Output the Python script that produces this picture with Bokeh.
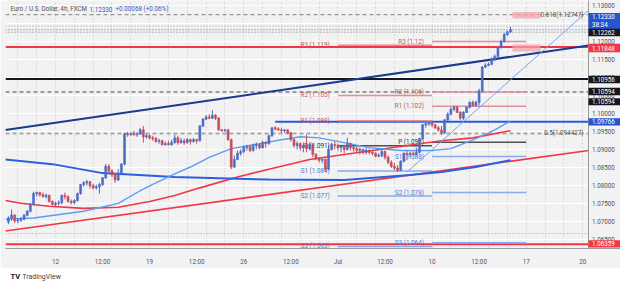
from bokeh.plotting import figure
from bokeh.models import Range1d, FixedTicker, Label, Span, BoxAnnotation, ColumnDataSource
from bokeh.layouts import column
from bokeh.embed import file_html
from bokeh.resources import INLINE
from bokeh.core.properties import value

FONT = "Roboto"

# ---------------- data ----------------
# 4h bars, bar 0 = Mon 12 Jun 2023 00:00 (trading-time index)
bar_index = list(range(-15, 146))
opens = [
    1.0698, 1.0709, 1.0717, 1.0701, 1.0703, 1.0706, 1.0717, 1.0728, 1.0747, 1.0777,
    1.0780, 1.0774, 1.0769, 1.0772, 1.0755, 1.0747, 1.0750, 1.0752, 1.0772, 1.0769,
    1.0755, 1.0752, 1.0758, 1.0777, 1.0802, 1.0807, 1.0810, 1.0799, 1.0793, 1.0796,
    1.0802, 1.0821, 1.0853, 1.0840, 1.0829, 1.0815, 1.0834, 1.0859, 1.0943, 1.0941,
    1.0943, 1.0941, 1.0943, 1.0954, 1.0935, 1.0938, 1.0932, 1.0930, 1.0922, 1.0924,
    1.0913, 1.0916, 1.0913, 1.0919, 1.0932, 1.0919, 1.0924, 1.0919, 1.0927, 1.0922,
    1.0927, 1.0924, 1.0965, 1.0984, 1.0990, 1.0987, 1.0995, 1.0987, 1.0954, 1.0952,
    1.0954, 1.0927, 1.0851, 1.0872, 1.0889, 1.0894, 1.0905, 1.0908, 1.0897, 1.0911,
    1.0913, 1.0905, 1.0919, 1.0916, 1.0938, 1.0960, 1.0957, 1.0954, 1.0952, 1.0954,
    1.0946, 1.0927, 1.0911, 1.0916, 1.0905, 1.0911, 1.0902, 1.0913, 1.0886, 1.0875,
    1.0870, 1.0872, 1.0845, 1.0900, 1.0913, 1.0911, 1.0905, 1.0908, 1.0900, 1.0916,
    1.0905, 1.0902, 1.0897, 1.0900, 1.0892, 1.0897, 1.0892, 1.0889, 1.0881, 1.0883,
    1.0894, 1.0878, 1.0864, 1.0853, 1.0848, 1.0842, 1.0867, 1.0889, 1.0886, 1.0889,
    1.0886, 1.0892, 1.0930, 1.0968, 1.0971, 1.0973, 1.0968, 1.0960, 1.0954, 1.0946,
    1.0982, 1.0998, 1.1012, 1.1017, 1.1003, 1.0987, 1.1003, 1.1017, 1.1031, 1.1022,
    1.1031, 1.1063, 1.1129, 1.1134, 1.1137, 1.1151, 1.1159, 1.1183, 1.1200, 1.1219, 1.1227]
highs = [
    1.0714, 1.0733, 1.0720, 1.0709, 1.0712, 1.0720, 1.0731, 1.0750, 1.0782, 1.0782,
    1.0782, 1.0780, 1.0777, 1.0774, 1.0758, 1.0755, 1.0758, 1.0774, 1.0780, 1.0772,
    1.0761, 1.0761, 1.0780, 1.0804, 1.0812, 1.0815, 1.0812, 1.0804, 1.0802, 1.0807,
    1.0823, 1.0859, 1.0859, 1.0845, 1.0834, 1.0845, 1.0862, 1.0946, 1.0949, 1.0949,
    1.0952, 1.0949, 1.0960, 1.0965, 1.0943, 1.0941, 1.0938, 1.0935, 1.0930, 1.0927,
    1.0922, 1.0924, 1.0927, 1.0941, 1.0938, 1.0932, 1.0930, 1.0932, 1.0930, 1.0932,
    1.0930, 1.0968, 1.0987, 1.0995, 1.0998, 1.1009, 1.0998, 1.0990, 1.0957, 1.0957,
    1.0957, 1.0930, 1.0883, 1.0897, 1.0900, 1.0911, 1.0913, 1.0911, 1.0916, 1.0919,
    1.0916, 1.0924, 1.0922, 1.0941, 1.0962, 1.0965, 1.0962, 1.0960, 1.0957, 1.0957,
    1.0949, 1.0930, 1.0922, 1.0919, 1.0919, 1.0941, 1.0919, 1.0916, 1.0889, 1.0878,
    1.0875, 1.0875, 1.0911, 1.0919, 1.0922, 1.0916, 1.0913, 1.0913, 1.0932, 1.0919,
    1.0911, 1.0908, 1.0905, 1.0902, 1.0905, 1.0902, 1.0900, 1.0892, 1.0889, 1.0900,
    1.0897, 1.0883, 1.0870, 1.0862, 1.0856, 1.0870, 1.0892, 1.0897, 1.0894, 1.0894,
    1.0905, 1.0932, 1.0971, 1.0976, 1.0976, 1.0976, 1.0971, 1.0965, 1.0965, 1.0984,
    1.1003, 1.1017, 1.1022, 1.1022, 1.1006, 1.1006, 1.1020, 1.1033, 1.1036, 1.1036,
    1.1069, 1.1132, 1.1140, 1.1142, 1.1156, 1.1164, 1.1186, 1.1205, 1.1224, 1.1230, 1.1241]
lows = [
    1.0692, 1.0701, 1.0695, 1.0695, 1.0698, 1.0703, 1.0714, 1.0725, 1.0744, 1.0769,
    1.0769, 1.0766, 1.0763, 1.0752, 1.0744, 1.0742, 1.0744, 1.0747, 1.0761, 1.0752,
    1.0747, 1.0747, 1.0755, 1.0774, 1.0796, 1.0799, 1.0791, 1.0788, 1.0788, 1.0777,
    1.0799, 1.0818, 1.0834, 1.0823, 1.0807, 1.0812, 1.0832, 1.0856, 1.0935, 1.0938,
    1.0938, 1.0935, 1.0941, 1.0919, 1.0930, 1.0927, 1.0924, 1.0919, 1.0916, 1.0911,
    1.0911, 1.0911, 1.0911, 1.0916, 1.0913, 1.0916, 1.0913, 1.0916, 1.0913, 1.0919,
    1.0916, 1.0922, 1.0962, 1.0982, 1.0984, 1.0984, 1.0982, 1.0952, 1.0949, 1.0949,
    1.0924, 1.0845, 1.0848, 1.0870, 1.0883, 1.0889, 1.0897, 1.0892, 1.0894, 1.0900,
    1.0900, 1.0902, 1.0905, 1.0913, 1.0935, 1.0952, 1.0952, 1.0946, 1.0946, 1.0943,
    1.0922, 1.0905, 1.0900, 1.0897, 1.0892, 1.0892, 1.0897, 1.0878, 1.0870, 1.0864,
    1.0862, 1.0837, 1.0842, 1.0897, 1.0900, 1.0897, 1.0892, 1.0889, 1.0897, 1.0897,
    1.0894, 1.0889, 1.0886, 1.0886, 1.0886, 1.0886, 1.0883, 1.0878, 1.0878, 1.0878,
    1.0872, 1.0859, 1.0848, 1.0842, 1.0837, 1.0840, 1.0864, 1.0870, 1.0878, 1.0883,
    1.0883, 1.0889, 1.0927, 1.0960, 1.0965, 1.0962, 1.0957, 1.0949, 1.0941, 1.0943,
    1.0979, 1.0995, 1.1006, 1.1001, 1.0982, 1.0982, 1.1001, 1.1014, 1.1020, 1.1020,
    1.1022, 1.1058, 1.1126, 1.1132, 1.1134, 1.1145, 1.1156, 1.1181, 1.1197, 1.1216, 1.1224]
closes = [
    1.0709, 1.0717, 1.0701, 1.0703, 1.0706, 1.0717, 1.0728, 1.0747, 1.0777, 1.0780,
    1.0774, 1.0769, 1.0772, 1.0755, 1.0747, 1.0750, 1.0752, 1.0772, 1.0769, 1.0755,
    1.0752, 1.0758, 1.0777, 1.0802, 1.0807, 1.0810, 1.0799, 1.0793, 1.0796, 1.0802,
    1.0821, 1.0853, 1.0840, 1.0829, 1.0815, 1.0834, 1.0859, 1.0943, 1.0941, 1.0943,
    1.0941, 1.0943, 1.0954, 1.0935, 1.0938, 1.0932, 1.0930, 1.0922, 1.0924, 1.0913,
    1.0916, 1.0913, 1.0919, 1.0932, 1.0919, 1.0924, 1.0919, 1.0927, 1.0922, 1.0927,
    1.0924, 1.0965, 1.0984, 1.0990, 1.0987, 1.0995, 1.0987, 1.0954, 1.0952, 1.0954,
    1.0927, 1.0851, 1.0872, 1.0889, 1.0894, 1.0905, 1.0908, 1.0897, 1.0911, 1.0913,
    1.0905, 1.0919, 1.0916, 1.0938, 1.0960, 1.0957, 1.0954, 1.0952, 1.0954, 1.0946,
    1.0927, 1.0911, 1.0916, 1.0905, 1.0911, 1.0902, 1.0913, 1.0886, 1.0875, 1.0870,
    1.0872, 1.0845, 1.0900, 1.0913, 1.0911, 1.0905, 1.0908, 1.0900, 1.0916, 1.0905,
    1.0902, 1.0897, 1.0900, 1.0892, 1.0897, 1.0892, 1.0889, 1.0881, 1.0883, 1.0894,
    1.0878, 1.0864, 1.0853, 1.0848, 1.0842, 1.0867, 1.0889, 1.0886, 1.0889, 1.0886,
    1.0892, 1.0930, 1.0968, 1.0971, 1.0973, 1.0968, 1.0960, 1.0954, 1.0946, 1.0982,
    1.0998, 1.1012, 1.1017, 1.1003, 1.0987, 1.1003, 1.1017, 1.1031, 1.1022, 1.1031,
    1.1063, 1.1129, 1.1134, 1.1137, 1.1151, 1.1159, 1.1183, 1.1200, 1.1219, 1.1227, 1.1233]

# moving averages (read at sample bars)
ma_blue_x = [-16, -1, 15, 38, 68, 92, 113, 123, 134, 145]
ma_blue_y = [1.0872, 1.0859, 1.0834, 1.0823, 1.0816, 1.0815, 1.0829, 1.0837, 1.0851, 1.0870]
ma_light_x = [-16, -7, 9, 20, 27, 32, 38, 43, 49, 56, 65, 72, 78, 84, 92, 100, 110, 120, 126, 134, 140, 145]
ma_light_y = [1.0706, 1.0709, 1.0728, 1.0750, 1.0785, 1.0807, 1.0832, 1.0851, 1.0878, 1.0902, 1.0916,
              1.0927, 1.0935, 1.0932, 1.0919, 1.0905, 1.0897, 1.0897, 1.0902, 1.0930, 1.0954, 1.0979]
ma_red_x = [-16, -11, -2, 9, 20, 30, 38, 46, 58, 68, 81, 92, 101, 112, 123, 133, 145]
ma_red_y = [1.0758, 1.0750, 1.0742, 1.0736, 1.0739, 1.0755, 1.0772, 1.0793, 1.0823, 1.0845, 1.0872,
            1.0886, 1.0897, 1.0911, 1.0924, 1.0932, 1.0952]

# trend lines (bar, price) end points
navy_trend_x = [-16, 169.86]
navy_trend_y = [1.0954, 1.1189]
red_trend_x = [-16, 169.86]
red_trend_y = [1.0673, 1.0897]
light_trend_x = [112, 169.86]
light_trend_y = [1.0837, 1.1287]

# horizontal levels
fib_618 = 1.12747
fib_50 = 1.094427
last_price = 1.12330
prev_level = 1.12262
upper_dotted = 1.1243
red_levels = [1.11848, 1.06359]
black_level = 1.10956
gray_dashed_level = 1.10594
blue_ray_level = 1.09766
blue_ray_start = 70
low_dotted = 1.0666

# weekly pivot points
pivot_names = ["R3", "R2", "R1", "P", "S1", "S2", "S3"]
pivot_week1 = [1.119, 1.105, 1.098, 1.091, 1.084, 1.077, 1.063]
pivot_week2 = [1.12, 1.106, 1.102, 1.092, 1.088, 1.078, 1.064]
pivot_start = [90, 120]
pivot_end = [120, 150]

# axis ticks
tick_bars = [0, 15, 30, 45, 60, 75, 90, 105, 120, 135, 150, 168]
tick_labels = ["12", "12:00", "19", "12:00", "26", "12:00", "Jul", "12:00", "10", "12:00", "17", "20"]
price_ticks = [1.065, 1.070, 1.075, 1.080, 1.085, 1.090, 1.095, 1.100, 1.105, 1.110, 1.115, 1.120, 1.125, 1.130]

# price tags on the price scale: (text lines, colour)
tag_texts = [["1.12330", "38:34"], ["1.12262"], ["1.11848"], ["1.10956"], ["1.10594"], ["1.10594"],
             ["1.09766"], ["1.06359"]]
tag_colors = ["#2554d0", "#131722", "#f23645", "#131722", "#131722", "#131722", "#2554d0", "#f23645"]
# tag box placement on screen (centre y px, height px)
tag_box = [(21.0, 16.6), (32.6, 7.6), (48.5, 8.6), (80.5, 7.6), (92.9, 7.6), (103.3, 7.2),
           (123.7, 7.4), (248.4, 7.4)]

# ---------------- geometry ----------------
W, H = 620, 268
LB, BB = 5, 15
PX_PER_BAR = 3.138
X0 = -15.93
AXIS_PX = 588                 # price scale starts here
FW, FH = W - LB, H - BB
X1 = X0 + FW / PX_PER_BAR
Y0, Y1 = 1.06243, 1.13142


def xk(px):
    return X0 + (px - LB) / PX_PER_BAR


def yp(py):
    return Y1 - py * (Y1 - Y0) / FH


XA = xk(AXIS_PX)
BG = "#f2f2f2"
UP, DN = "#4e6cc4", "#c44e5c"

p = figure(width=W, height=H, x_range=Range1d(X0, X1), y_range=Range1d(Y0, Y1),
           y_axis_location=None, toolbar_location=None, output_backend="svg",
           min_border_left=LB, min_border_right=0, min_border_top=0, min_border_bottom=BB)
p.background_fill_color = BG
p.border_fill_color = BG
p.outline_line_color = None

# time axis
p.xaxis.ticker = FixedTicker(ticks=tick_bars)
p.xaxis.major_label_overrides = {t: l for t, l in zip(tick_bars, tick_labels)}
p.xaxis.axis_line_color = "#9a9a9a"
p.xaxis.major_tick_line_color = None
p.xaxis.minor_tick_line_color = None
p.xaxis.major_label_text_font = FONT
p.xaxis.major_label_text_font_size = "6.3px"
p.xaxis.major_label_text_color = "#555555"
p.xaxis.major_label_standoff = 3

p.xgrid.ticker = FixedTicker(ticks=list(range(-12, 170, 6)))
p.xgrid.grid_line_color = "#d6d6d6"
p.xgrid.grid_line_dash = "2 2"
p.ygrid.ticker = FixedTicker(ticks=price_ticks)
p.ygrid.grid_line_color = "#ffffff"

# horizontal levels
spans = [
    (fib_618, "#808080", 1, "4 3"),
    (upper_dotted, "#a0a0a0", 1, "1 2"),
    (last_price, "#3d6fe0", 1, "1 2"),
    (prev_level, "#707070", 1, "1 2"),
    (red_levels[0], "#f23645", 2, "solid"),
    (black_level, "#131722", 2, "solid"),
    (gray_dashed_level, "#9a9a9a", 2, "4 3"),
    (fib_50, "#a8a8a8", 2, "4 3"),
    (low_dotted, "#a8a8a8", 1, "1 2"),
    (red_levels[1], "#f23645", 2, "solid"),
]
for loc, col, lw, dash in spans:
    p.add_layout(Span(location=loc, dimension="width", line_color=col, line_width=lw,
                      line_dash=dash, level="underlay"))

# pink highlight boxes
for b, t in [(yp(18.3), yp(11.7)), (yp(52), yp(45))]:
    p.add_layout(BoxAnnotation(left=xk(512), right=xk(540), bottom=b, top=t,
                               fill_color="#f4a0a8", fill_alpha=0.75, line_color=None,
                               level="underlay"))

p.segment(x0=blue_ray_start, y0=blue_ray_level, x1=XA, y1=blue_ray_level,
          line_color="#2a5ad8", line_width=2)

# pivot lines & labels
pv_x0, pv_x1, pv_y, pv_col, lab_x, lab_t, lab_c = [], [], [], [], [], [], []
for w, vals in enumerate([pivot_week1, pivot_week2]):
    for name, v in zip(pivot_names, vals):
        pv_x0.append(pivot_start[w]); pv_x1.append(pivot_end[w]); pv_y.append(v)
        if name.startswith("R"):
            pv_col.append("#e28d98"); lab_c.append("#c65463")
        elif name.startswith("S"):
            pv_col.append("#89aaec"); lab_c.append("#4f7ad6")
        else:
            pv_col.append("#505050"); lab_c.append("#333333")
        lab_x.append(pivot_start[w] - 2.6)
        lab_t.append(f"{name} ({v})")
p.segment(x0=pv_x0, y0=pv_y, x1=pv_x1, y1=pv_y, line_color=pv_col, line_width=1.5)
p.text(x=lab_x, y=pv_y, text=lab_t, text_color=lab_c, text_align="right", text_baseline="middle",
       text_font=value(FONT), text_font_size="6.3px")

# trend lines and moving averages
p.line(red_trend_x, red_trend_y, line_color="#f23645", line_width=1.6)
p.line(ma_red_x, ma_red_y, line_color="#f23645", line_width=1.6)
p.line(ma_blue_x, ma_blue_y, line_color="#2c5fe0", line_width=2)
p.line(ma_light_x, ma_light_y, line_color="#5b9cf6", line_width=1.4)
p.line(navy_trend_x, navy_trend_y, line_color="#1b3a8f", line_width=2)
p.line(light_trend_x, light_trend_y, line_color="#6ea6f5", line_width=1)

# candles
cols = [UP if c >= o else DN for o, c in zip(opens, closes)]
tops = [max(o, c) + 0.00003 for o, c in zip(opens, closes)]
bots = [min(o, c) - 0.00003 for o, c in zip(opens, closes)]
src = ColumnDataSource(dict(x=bar_index, o=opens, h=highs, l=lows, c=closes,
                            top=tops, bot=bots, col=cols))
p.segment(x0="x", y0="h", x1="x", y1="l", color="col", line_width=1, source=src)
p.vbar(x="x", top="top", bottom="bot", width=0.62, fill_color="col", line_color="col",
       line_width=0.6, source=src)

# level texts
p.add_layout(Label(x=xk(583), y=fib_618, text=f"0.618({fib_618})", text_align="right",
                   text_baseline="middle", text_font=FONT, text_font_size="6.3px", text_color="#555555"))
p.add_layout(Label(x=xk(583), y=fib_50, text=f"0.5({fib_50})", text_align="right",
                   text_baseline="middle", text_font=FONT, text_font_size="6.3px", text_color="#555555"))

# title
p.add_layout(Label(x=xk(10), y=yp(9), text="Euro / U.S. Dollar, 4h, FXCM", text_baseline="middle",
                   text_font=FONT, text_font_size="6.3px", text_color="#555555"))
p.add_layout(Label(x=xk(89), y=yp(9), text="1.12330", text_baseline="middle",
                   text_font=FONT, text_font_size="6.3px", text_color="#3558c8"))
p.add_layout(Label(x=xk(115), y=yp(9), text="+0.00068 (+0.06%)", text_baseline="middle",
                   text_font=FONT, text_font_size="6.3px", text_color="#3558c8"))

# ---- price scale (right) ----
p.quad(left=XA, right=X1 + 1, bottom=Y0 - 0.01, top=Y1 + 0.01, fill_color=BG, line_color=None)
p.segment(x0=XA, y0=Y0 - 0.01, x1=XA, y1=Y1 + 0.01, line_color="#9a9a9a", line_width=1)
p.text(x=[xk(591.5)] * len(price_ticks), y=price_ticks, text=[f"{v:.5f}" for v in price_ticks],
       text_align="left", text_baseline="middle", text_font=value(FONT), text_font_size="6.3px",
       text_color="#555555")

tag_cx = xk((AXIS_PX + W) / 2)
tag_w = (W - AXIS_PX) / PX_PER_BAR
rect_y, rect_h, rect_c, tx_y, tx_t = [], [], [], [], []
for lines, col, (cy, hh) in zip(tag_texts, tag_colors, tag_box):
    rect_y.append(yp(cy)); rect_h.append(hh * (Y1 - Y0) / FH); rect_c.append(col)
    if len(lines) == 1:
        tx_y.append(yp(cy)); tx_t.append(lines[0])
    else:
        tx_y.append(yp(cy - 4.3)); tx_t.append(lines[0])
        tx_y.append(yp(cy + 3.6)); tx_t.append(lines[1])
p.rect(x=[tag_cx] * len(rect_y), y=rect_y, width=tag_w, height=rect_h, fill_color=rect_c, line_color=None)
p.text(x=[xk(591.5)] * len(tx_y), y=tx_y, text=tx_t, text_align="left", text_baseline="middle",
       text_font=value(FONT), text_font_size="6.3px", text_color="#ffffff")

# footer
footer = figure(width=W, height=18, x_range=Range1d(0, W), y_range=Range1d(0, 18),
                toolbar_location=None, output_backend="svg", min_border=0,
                x_axis_location=None, y_axis_location=None)
footer.xgrid.visible = False
footer.ygrid.visible = False
footer.outline_line_color = None
footer.background_fill_color = "#ffffff"
footer.border_fill_color = "#ffffff"
footer.add_layout(Label(x=5, y=10, text="TV", text_baseline="middle", text_font=FONT,
                        text_font_size="7.5px", text_font_style="bold", text_color="#131722"))
footer.add_layout(Label(x=17, y=10, text="TradingView", text_baseline="middle", text_font=FONT,
                        text_font_size="7px", text_color="#444444"))

layout = column(p, footer, spacing=0)
open("out.html", "w").write(file_html(layout, INLINE))
